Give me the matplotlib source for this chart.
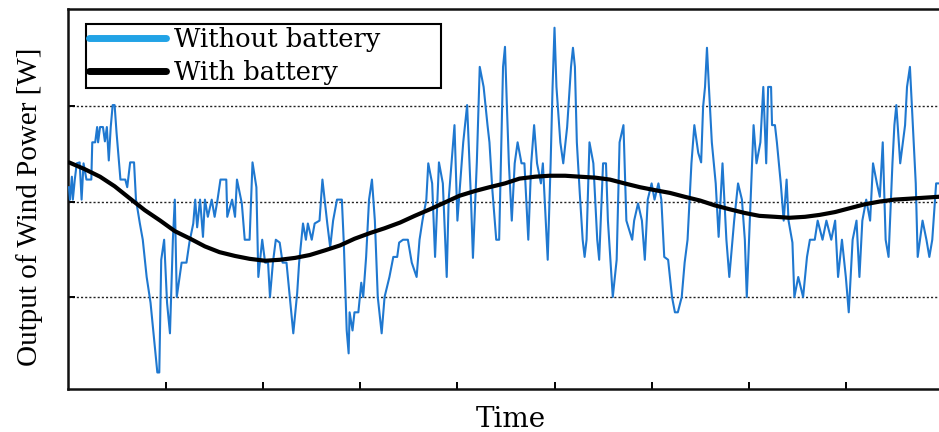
import matplotlib
matplotlib.use("Agg")
import matplotlib.pyplot as plt
from matplotlib.lines import Line2D

# ---- data (time in tick units, power in grid units) ----
t_without = [0.00, 0.01, 0.03, 0.04, 0.06, 0.08, 0.11, 0.13, 0.15, 0.18, 0.23, 0.24, 0.27, 0.29, 0.30,
             0.32, 0.35, 0.37, 0.39, 0.41, 0.43, 0.45, 0.47, 0.49, 0.53, 0.58, 0.60, 0.63, 0.67, 0.69,
             0.73, 0.76, 0.80, 0.84, 0.89, 0.91, 0.93, 0.95, 0.98, 1.01, 1.04, 1.07, 1.09, 1.11, 1.16,
             1.21, 1.24, 1.28, 1.30, 1.32, 1.35, 1.38, 1.40, 1.43, 1.47, 1.50, 1.53, 1.56, 1.62, 1.63,
             1.68, 1.71, 1.73, 1.78, 1.81, 1.86, 1.89, 1.93, 1.95, 1.99, 2.02, 2.05, 2.07, 2.10, 2.13,
             2.17, 2.20, 2.24, 2.31, 2.35, 2.37, 2.41, 2.44, 2.46, 2.50, 2.53, 2.58, 2.61, 2.66, 2.69,
             2.72, 2.76, 2.81, 2.83, 2.86, 2.88, 2.89, 2.92, 2.94, 2.98, 3.01, 3.03, 3.06, 3.09, 3.12,
             3.15, 3.18, 3.22, 3.25, 3.30, 3.34, 3.38, 3.40, 3.44, 3.49, 3.53, 3.58, 3.61, 3.64, 3.68,
             3.70, 3.74, 3.77, 3.81, 3.85, 3.89, 3.91, 3.97, 4.00, 4.06, 4.10, 4.14, 4.16, 4.20, 4.23,
             4.27, 4.31, 4.33, 4.36, 4.40, 4.43, 4.47, 4.49, 4.51, 4.53, 4.56, 4.59, 4.62, 4.66, 4.69,
             4.73, 4.76, 4.79, 4.82, 4.86, 4.88, 4.93, 4.96, 4.98, 5.00, 5.02, 5.06, 5.09, 5.13, 5.17,
             5.19, 5.21, 5.23, 5.26, 5.29, 5.31, 5.33, 5.36, 5.40, 5.44, 5.46, 5.50, 5.53, 5.55, 5.60,
             5.64, 5.67, 5.71, 5.74, 5.80, 5.82, 5.86, 5.90, 5.93, 5.96, 6.00, 6.03, 6.07, 6.10, 6.13,
             6.17, 6.21, 6.24, 6.27, 6.31, 6.34, 6.37, 6.41, 6.44, 6.48, 6.51, 6.53, 6.55, 6.57, 6.59,
             6.62, 6.66, 6.69, 6.73, 6.77, 6.80, 6.85, 6.89, 6.93, 6.96, 6.98, 7.02, 7.05, 7.08, 7.12,
             7.15, 7.18, 7.20, 7.23, 7.24, 7.27, 7.29, 7.33, 7.36, 7.39, 7.41, 7.45, 7.47, 7.51, 7.56,
             7.60, 7.63, 7.68, 7.71, 7.76, 7.80, 7.85, 7.89, 7.92, 7.96, 8.00, 8.03, 8.07, 8.11, 8.14,
             8.17, 8.21, 8.25, 8.28, 8.32, 8.35, 8.38, 8.41, 8.44, 8.48, 8.50, 8.52, 8.56, 8.61, 8.63,
             8.66, 8.69, 8.72, 8.74, 8.79, 8.83, 8.86, 8.89, 8.93, 8.96]
p_without = [2.15, 2.02, 2.26, 2.02, 2.23, 2.40, 2.41, 2.02, 2.40, 2.23, 2.23, 2.62, 2.62, 2.78, 2.62,
             2.78, 2.78, 2.63, 2.78, 2.43, 2.78, 3.01, 3.01, 2.72, 2.23, 2.23, 2.15, 2.41, 2.41, 2.02,
             1.77, 1.60, 1.21, 0.94, 0.41, 0.21, 0.21, 1.39, 1.60, 0.94, 0.62, 1.60, 2.02, 1.00, 1.36,
             1.36, 1.57, 1.77, 2.02, 1.73, 2.02, 1.63, 2.02, 1.84, 2.02, 1.84, 2.02, 2.23, 2.23, 1.84,
             2.02, 1.84, 2.23, 1.98, 1.60, 1.60, 2.41, 2.15, 1.21, 1.60, 1.36, 1.36, 1.00, 1.36, 1.60,
             1.57, 1.36, 1.36, 0.62, 1.04, 1.36, 1.77, 1.60, 1.77, 1.60, 1.77, 1.80, 2.23, 1.77, 1.52,
             1.80, 2.02, 2.02, 1.57, 0.65, 0.41, 0.84, 0.65, 0.84, 0.84, 1.15, 1.00, 1.42, 2.02, 2.23,
             1.80, 1.00, 0.62, 1.00, 1.21, 1.42, 1.42, 1.57, 1.60, 1.60, 1.36, 1.21, 1.60, 1.80, 2.02,
             2.40, 2.19, 1.42, 2.41, 2.19, 1.21, 2.02, 2.80, 1.80, 2.62, 3.01, 2.02, 1.41, 2.41, 3.41,
             3.20, 2.80, 2.62, 2.12, 1.60, 1.60, 3.41, 3.62, 2.99, 2.40, 1.80, 2.40, 2.62, 2.40, 2.40,
             1.60, 2.40, 2.80, 2.40, 2.19, 2.40, 1.39, 2.40, 3.20, 3.82, 3.20, 2.62, 2.40, 2.78, 3.41,
             3.61, 3.41, 2.62, 2.09, 1.60, 1.42, 1.60, 2.62, 2.40, 1.60, 1.39, 2.40, 2.40, 1.80, 1.00,
             1.39, 2.62, 2.80, 1.80, 1.60, 1.80, 1.98, 1.80, 1.39, 2.02, 2.19, 2.02, 2.19, 2.02, 1.42,
             1.39, 1.00, 0.84, 0.84, 1.00, 1.36, 1.60, 2.40, 2.80, 2.51, 2.41, 2.99, 3.20, 3.61, 3.20,
             2.62, 2.19, 1.63, 2.40, 1.60, 1.21, 1.80, 2.19, 2.02, 1.60, 1.00, 2.02, 2.80, 2.40, 2.62,
             3.20, 2.40, 3.20, 3.20, 2.80, 2.80, 2.62, 2.19, 1.80, 2.23, 1.80, 1.57, 1.00, 1.21, 1.00,
             1.42, 1.60, 1.60, 1.80, 1.60, 1.80, 1.60, 1.80, 1.21, 1.60, 1.21, 0.84, 1.60, 1.80, 1.21,
             1.80, 2.02, 1.80, 2.40, 2.19, 2.05, 2.62, 1.60, 1.42, 2.40, 2.80, 3.01, 2.40, 2.80, 3.20,
             3.41, 2.80, 2.19, 1.42, 1.80, 1.60, 1.42, 1.60, 2.19, 2.19]

t_with = [0.00, 0.16, 0.32, 0.47, 0.63, 0.78, 0.94, 1.09, 1.25, 1.40, 1.55, 1.71, 1.86, 2.02, 2.17,
          2.33, 2.48, 2.64, 2.79, 2.94, 3.10, 3.25, 3.41, 3.56, 3.72, 3.87, 4.02, 4.18, 4.33, 4.49,
          4.64, 4.80, 4.95, 5.11, 5.26, 5.42, 5.57, 5.72, 5.88, 6.03, 6.19, 6.34, 6.50, 6.65, 6.80,
          6.96, 7.11, 7.27, 7.42, 7.58, 7.73, 7.89, 8.04, 8.19, 8.35, 8.50, 8.66, 8.81, 8.96]
p_with = [2.41, 2.34, 2.26, 2.16, 2.03, 1.91, 1.80, 1.69, 1.61, 1.53, 1.47, 1.43, 1.40, 1.38, 1.39,
          1.41, 1.44, 1.49, 1.54, 1.61, 1.67, 1.72, 1.78, 1.85, 1.92, 1.99, 2.06, 2.11, 2.15, 2.19,
          2.24, 2.26, 2.27, 2.27, 2.26, 2.25, 2.23, 2.19, 2.15, 2.12, 2.09, 2.05, 2.01, 1.96, 1.92,
          1.88, 1.85, 1.84, 1.83, 1.84, 1.86, 1.89, 1.93, 1.97, 2.00, 2.02, 2.03, 2.04, 2.05]

x_ticks = [1, 2, 3, 4, 5, 6, 7, 8]
y_grid = [1, 2, 3]
labels = ["Without battery", "With battery"]

W, H = 939, 432
fig = plt.figure(figsize=(W / 100, H / 100), dpi=100)
ax = fig.add_axes([68 / W, 1 - 389 / H, (941 - 68) / W, (389 - 9) / H])

ax.plot(t_without, p_without, color="#1f78d0", lw=1.5, zorder=3)
ax.plot(t_with, p_with, color="black", lw=3.0, zorder=4, solid_capstyle="round",
        solid_joinstyle="round")

for g in y_grid:
    ax.axhline(g, color="#222222", lw=1.0, linestyle=(0, (1.5, 1.5)), zorder=1)

ax.set_xlim(-0.01, 8.98)
ax.set_ylim(0.037, 4.016)
ax.set_xticks(x_ticks)
ax.set_yticks(y_grid)
ax.tick_params(direction="in", length=5, width=1.4, labelbottom=False, labelleft=False,
               top=False, right=False)
for s in ax.spines.values():
    s.set_linewidth(1.8)
    s.set_color("#111111")

handles = [Line2D([], [], color="#22a3e6", lw=5, solid_capstyle="round"),
           Line2D([], [], color="black", lw=5, solid_capstyle="round")]
leg = fig.legend(handles, labels, loc="upper left",
                 bbox_to_anchor=(86 / W, 1 - 93 / H, (441 - 86) / W, (93 - 24) / H),
                 bbox_transform=fig.transFigure, mode="expand", borderaxespad=0,
                 prop={"family": "DejaVu Serif", "size": 18.5},
                 handlelength=3.0, handletextpad=0.3, borderpad=0.12, labelspacing=0.32,
                 fancybox=False, framealpha=1, edgecolor="black")
leg.get_frame().set_linewidth(1.5)

fig.text(30 / W, 1 - 207 / H, "Output of Wind Power [W]", rotation=90, ha="center", va="center",
         family="Liberation Serif", fontsize=21)
fig.text(511 / W, 1 - 427 / H, "Time", ha="center", va="baseline",
         family="DejaVu Serif", fontsize=20)

fig.savefig("out.png", dpi=100)
